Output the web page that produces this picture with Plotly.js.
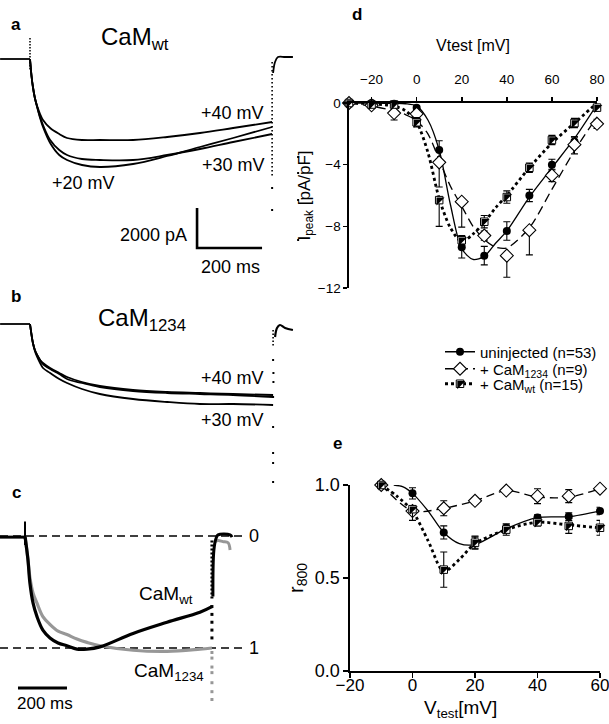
<!DOCTYPE html>
<html><head><meta charset="utf-8">
<script src="https://cdn.plot.ly/plotly-3.0.1.min.js"></script>
<style>html,body{margin:0;padding:0;background:#fff}#chart{width:609px;height:724px}</style>
</head><body><div id="chart"></div>
<script>
// ===== Panel a : CaMwt currents (time ms, current pA) =====
const aBaseT = [-92, 0];
const aBaseI = [0, 0];
const aPulseT = [0, 5, 9, 15, 22, 31, 40, 62, 90, 114, 160, 215, 317, 422, 523, 625, 745];
const aI40 = [0, -900, -1400, -1950, -2350, -2750, -3050, -3450, -3750, -3950, -4050, -4050, -4050, -3900, -3700, -3450, -3150];
const aI30 = [0, -900, -1400, -1950, -2400, -2900, -3300, -4050, -4550, -4800, -5000, -5050, -5050, -4800, -4500, -4150, -3750];
const aI20 = [0, -900, -1400, -1950, -2400, -2950, -3400, -4200, -4800, -5050, -5300, -5400, -5250, -4850, -4400, -3950, -3400];
const aSpikeT = [0, 0];
const aSpikeI = [1050, -550];
const aTailLineT = [745, 745];
const aTailLineI = [-150, -5900];
const aTailDotT = [745, 745, 825, 825, 825, 825];
const aTailDotI = [-6450, -7550, -4900, -5700, -7050, -9050];
const aPostT = [748, 754, 763, 785, 809];
const aPostI = [-700, -150, 100, 100, 100];

// ===== Panel b : CaM1234 currents =====
const bBaseT = [-92, 0];
const bBaseI = [0, 0];
const bPulseT = [0, 3, 9, 15, 22, 31, 40, 62, 90, 114, 160, 215, 317, 422, 523, 625, 748];
const bI40 = [0, -350, -950, -1300, -1550, -1800, -1950, -2200, -2450, -2650, -2900, -3100, -3300, -3400, -3450, -3500, -3550];
const bI20 = [0, -350, -950, -1300, -1550, -1800, -2000, -2250, -2500, -2750, -2950, -3150, -3350, -3450, -3500, -3550, -3650];
const bI30 = [0, -350, -950, -1350, -1650, -1950, -2200, -2450, -2750, -2950, -3250, -3500, -3750, -3900, -4000, -4000, -4050];
const bTailLineT = [748, 748];
const bTailLineI = [-300, -1150];
const bTailDotT = [748, 749, 749, 748, 748, 748, 748, 748];
const bTailDotI = [-1800, -2450, -2900, -3650, -5150, -6450, -6950, -7900];
const bPostT = [754, 760, 769, 785, 809];
const bPostI = [-650, -200, -50, -200, -300];

// ===== Panel c : normalised currents (time ms, fraction of peak) =====
const cBaseT = [-102, 0];
const cBaseN = [0.01, 0.01];
const cSpikeT = [0, 0];
const cSpikeN = [-0.13, 0.08];
const cT = [0, 12, 20, 33, 49, 73, 102, 135, 171, 212, 253, 306, 441, 580, 714, 763];
const cWt = [0, 0.21, 0.42, 0.60, 0.72, 0.84, 0.91, 0.955, 0.98, 1.01, 1.01, 0.99, 0.87, 0.77, 0.68, 0.63];
const c1234 = [0, 0.21, 0.37, 0.51, 0.60, 0.72, 0.79, 0.85, 0.88, 0.92, 0.95, 0.98, 1.02, 1.03, 1.01, 1.0];
const cWtTailLineT = [763, 763];
const cWtTailLineN = [0.04, 0.57];
const cWtTailDotT = [763, 763, 763, 763, 763];
const cWtTailDotN = [0.63, 0.70, 0.77, 0.84, 0.91];
const cWtPostT = [767, 771, 780, 788, 837, 845];
const cWtPostN = [0.54, 0.125, 0.02, -0.01, -0.01, 0.01];
const c1234TailDotT = [763, 763, 763, 763, 763, 763, 763];
const c1234TailDotN = [1.04, 1.09, 1.17, 1.22, 1.31, 1.39, 1.46];
const c1234PostT = [776, 788, 808, 829, 837];
const c1234PostN = [0.05, 0.04, 0.05, 0.06, 0.125];

// ===== Panel d : I-V relation =====
const vD = [-30, -20, -10, 0, 10, 20, 30, 40, 50, 60, 70, 80];
const ipUninj = [0, 0, -0.05, -0.3, -3.05, -9.35, -9.9, -8.3, -6.0, -4.0, -2.5, -0.3];
const ipUninjErrP = [0, 0, 0.1, 0.1, 0.6, 0.6, 0.6, 0.6, 0.4, 0.35, 0.3, 0.2];
const ipUninjErrM = [0, 0, 0.1, 0.1, 0.6, 0.7, 0.6, 0.6, 0.4, 0.35, 0.3, 0.2];
const ip1234 = [0, -0.15, -0.65, -0.7, -3.85, -6.4, -8.6, -9.9, -8.25, -4.7, -2.7, -1.35];
const ip1234ErrP = [0, 0, 0, 0, 0, 0, 0.3, 0, 0, 0.4, 0.5, 0.3];
const ip1234ErrM = [0, 0, 0.45, 0.3, 1.6, 1.65, 0.3, 1.4, 1.6, 0.4, 0.6, 0.3];
const ipWt = [0, -0.1, -0.1, -1.25, -6.3, -8.9, -7.7, -6.1, -4.2, -2.4, -1.3, -0.3];
const ipWtErrP = [0, 0, 0, 0.3, 0, 0.3, 0.4, 0.4, 0.3, 0.3, 0.3, 0.2];
const ipWtErrM = [0, 0, 0, 0.3, 1.7, 0.3, 0.4, 0.4, 0.3, 0.3, 0.3, 0.2];
const fitV = [-30, -20, -10, -5, 0, 5, 10, 15, 20, 25, 30, 35, 40, 50, 60, 70, 80];
const fitUninj = [0, 0, -0.02, -0.05, -0.2, -1.1, -3.05, -6.6, -9.45, -10.15, -9.95, -9.1, -8.3, -6.1, -4.2, -2.3, -0.1];
const fit1234 = [0, -0.2, -0.5, -0.75, -1.15, -2.0, -3.7, -5.4, -6.7, -8.0, -8.85, -9.35, -9.4, -8.1, -5.6, -3.1, -0.9];
const fitWt = [0, -0.05, -0.2, -0.5, -1.25, -3.2, -6.2, -8.1, -9.0, -8.5, -7.75, -6.8, -6.0, -4.2, -2.6, -1.3, 0];

// ===== Panel e : r800 =====
const vE = [-10, 0, 10, 20, 30, 40, 50, 60];
const rUninj = [1.0, 0.955, 0.745, 0.69, 0.77, 0.825, 0.83, 0.86];
const rUninjErr = [0, 0.03, 0.035, 0.035, 0.02, 0.015, 0.02, 0.02];
const r1234 = [1.0, 0.86, 0.875, 0.915, 0.97, 0.94, 0.94, 0.98];
const r1234Err = [0, 0, 0.04, 0.015, 0.01, 0.04, 0.035, 0.01];
const rWt = [1.0, 0.87, 0.545, 0.69, 0.76, 0.80, 0.78, 0.77];
const rWtErrP = [0, 0, 0.095, 0.03, 0.03, 0.02, 0.04, 0.04];
const rWtErrM = [0, 0.06, 0.095, 0.03, 0.03, 0.02, 0.04, 0.04];
const lineUninjV = [-6, -3, 0, 5, 10, 15, 20, 25, 30, 40, 50, 60];
const lineUninjR = [1.0, 0.99, 0.955, 0.86, 0.745, 0.685, 0.68, 0.72, 0.765, 0.825, 0.83, 0.86];
const line1234V = [-10, 0, 10, 20, 30, 40, 50, 60];
const line1234R = [1.0, 0.86, 0.875, 0.915, 0.97, 0.935, 0.935, 0.98];
const lineWtV = [-10, -5, 0, 5, 10, 15, 20, 30, 40, 50, 60];
const lineWtR = [1.0, 0.94, 0.86, 0.7, 0.535, 0.6, 0.685, 0.76, 0.80, 0.785, 0.77];

// ===== labels =====
const legendNames = ['uninjected (n=53)', '+ CaM<sub>1234</sub> (n=9)', '+ CaM<sub>wt</sub> (n=15)'];

const FONT = 'Arial, "Liberation Sans", sans-serif';
const BLK = '#000';
const GREY = '#979797';
const W = 609, H = 724;
const PX = p => p / W, PY = p => 1 - p / H;

function ln(x, y, xa, ya, opt) {
  return Object.assign({x, y, xaxis: xa, yaxis: ya, type: 'scatter', mode: 'lines', showlegend: false,
    hoverinfo: 'skip', cliponaxis: false, line: {color: BLK, width: 1.8}}, opt || {});
}
function dots(x, y, xa, ya, col, size) {
  return {x, y, xaxis: xa, yaxis: ya, type: 'scatter', mode: 'markers', showlegend: false, hoverinfo: 'skip',
    cliponaxis: false, marker: {color: col, size: size, symbol: 'square', line: {width: 0}}};
}
function eb(p, m, w) {
  return {type: 'data', symmetric: false, array: p, arrayminus: m, color: BLK, thickness: 1.1, width: w || 3.5, visible: true};
}
const spl = (w, col) => ({color: col || BLK, width: w, shape: 'spline', smoothing: 1});

const traces = [];
// panel a
traces.push(ln(aBaseT, aBaseI, 'x', 'y'));
[aI40, aI30, aI20].forEach(arr => traces.push(ln(aPulseT, arr, 'x', 'y', {line: spl(1.8)})));
traces.push(ln(aSpikeT, aSpikeI, 'x', 'y', {line: {color: BLK, width: 1.5, dash: '1.5px,1.5px'}}));
traces.push(ln(aTailLineT, aTailLineI, 'x', 'y', {line: {color: BLK, width: 1.6, dash: '1.5px,2.5px'}}));
traces.push(dots(aTailDotT, aTailDotI, 'x', 'y', BLK, 2));
traces.push(ln(aPostT, aPostI, 'x', 'y', {line: spl(1.8)}));
// panel b
traces.push(ln(bBaseT, bBaseI, 'x2', 'y2'));
[bI40, bI20, bI30].forEach(arr => traces.push(ln(bPulseT, arr, 'x2', 'y2', {line: spl(1.8)})));
traces.push(ln(bTailLineT, bTailLineI, 'x2', 'y2', {line: {color: BLK, width: 1.6, dash: '1.5px,2px'}}));
traces.push(dots(bTailDotT, bTailDotI, 'x2', 'y2', BLK, 2));
traces.push(ln(bPostT, bPostI, 'x2', 'y2', {line: spl(2.2)}));
// panel c
traces.push(dots(c1234TailDotT, c1234TailDotN, 'x3', 'y3', GREY, 3));
traces.push(ln(c1234PostT, c1234PostN, 'x3', 'y3', {line: spl(3, GREY)}));
traces.push(ln(cT, c1234, 'x3', 'y3', {line: spl(3.2, GREY)}));
traces.push(ln(cBaseT, cBaseN, 'x3', 'y3', {line: {color: BLK, width: 3}}));
traces.push(ln(cSpikeT, cSpikeN, 'x3', 'y3', {line: {color: BLK, width: 2}}));
traces.push(ln(cT, cWt, 'x3', 'y3', {line: spl(3.2)}));
traces.push(ln(cWtTailLineT, cWtTailLineN, 'x3', 'y3', {line: {color: BLK, width: 3, dash: '2px,2px'}}));
traces.push(dots(cWtTailDotT, cWtTailDotN, 'x3', 'y3', BLK, 3));
traces.push(ln(cWtPostT, cWtPostN, 'x3', 'y3', {line: spl(3)}));

// panel d fit lines (legend entries carry the line style)
traces.push(ln(fitV, fitUninj, 'x4', 'y4', {name: legendNames[0], showlegend: true, legend: 'legend',
  line: {color: BLK, width: 1.3, shape: 'spline', smoothing: 0.8}}));
traces.push(ln(fitV, fit1234, 'x4', 'y4', {name: legendNames[1], showlegend: true, legend: 'legend2',
  line: {color: BLK, width: 1.3, dash: '9px,5px', shape: 'spline', smoothing: 0.8}}));
traces.push(ln(fitV, fitWt, 'x4', 'y4', {name: legendNames[2], showlegend: true, legend: 'legend3',
  line: {color: BLK, width: 2.8, dash: 'dot', shape: 'spline', smoothing: 0.8}}));
// panel d markers
const mk = (x, y, xa, ya, marker, err, lg) => ({x, y, xaxis: xa, yaxis: ya, type: 'scatter', mode: 'markers',
  hoverinfo: 'skip', cliponaxis: false, marker, error_y: err, name: '\u00a0', showlegend: !!lg, legend: lg || 'legend'});
const mCircle = {symbol: 'circle', size: 8, color: BLK, line: {width: 0}};
const mDiamond = {symbol: 'diamond', size: 10, color: '#fff', line: {color: BLK, width: 1.1}};
const mSquare = {symbol: 'square', size: 7.5, color: '#fff', line: {color: BLK, width: 1}};
const mTri = {symbol: 'triangle-nw', size: 9, color: BLK, line: {width: 0}};
traces.push(mk(vD, ipUninj, 'x4', 'y4', mCircle, eb(ipUninjErrP, ipUninjErrM), 'legend4'));
traces.push(mk(vD, ip1234, 'x4', 'y4', mDiamond, eb(ip1234ErrP, ip1234ErrM), 'legend5'));
traces.push(mk(vD, ipWt, 'x4', 'y4', mSquare, eb(ipWtErrP, ipWtErrM), 'legend6'));
traces.push(mk(vD, ipWt, 'x4', 'y4', mTri, null, 'legend7'));

// panel e
traces.push(ln(lineUninjV, lineUninjR, 'x5', 'y5', {line: {color: BLK, width: 1.3, shape: 'spline', smoothing: 0.8}}));
traces.push(ln(line1234V, line1234R, 'x5', 'y5', {line: {color: BLK, width: 1.3, dash: '8px,5px', shape: 'spline', smoothing: 0.8}}));
traces.push(ln(lineWtV, lineWtR, 'x5', 'y5', {line: {color: BLK, width: 2.8, dash: 'dot', shape: 'spline', smoothing: 0.8}}));
traces.push(mk(vE, rUninj, 'x5', 'y5', mCircle, eb(rUninjErr, rUninjErr)));
traces.push(mk(vE, r1234, 'x5', 'y5', mDiamond, eb(r1234Err, r1234Err)));
traces.push(mk(vE, rWt, 'x5', 'y5', mSquare, eb(rWtErrP, rWtErrM)));
traces.push(mk(vE, rWt, 'x5', 'y5', mTri, null));

const hidden = {visible: false, showgrid: false, zeroline: false, fixedrange: true, autorange: false};
const axStyle = {showgrid: false, zeroline: false, showline: true, linecolor: BLK, linewidth: 1.6,
  ticks: 'outside', tickcolor: BLK, tickwidth: 1.6, fixedrange: true, autorange: false, ticklabeloverflow: 'allow'};

const legBase = {bgcolor: 'rgba(0,0,0,0)', borderwidth: 0, font: {family: FONT, size: 15, color: BLK},
  xanchor: 'left', yanchor: 'middle', itemclick: false, itemdoubleclick: false};
const legX = PX(440);
const legY = [PY(352), PY(369), PY(384)];

function ann(text, x, y, size, opt) {
  return Object.assign({text, x: PX(x), y: PY(y), xref: 'paper', yref: 'paper', showarrow: false,
    font: {family: FONT, size, color: BLK}, xanchor: 'center', yanchor: 'middle'}, opt || {});
}

const layout = {
  width: W, height: H, margin: {l: 0, r: 0, t: 0, b: 0},
  paper_bgcolor: '#fff', plot_bgcolor: 'rgba(0,0,0,0)',
  font: {family: FONT, color: BLK},
  xaxis: Object.assign({}, hidden, {domain: [0, PX(300)], range: [-92.31, 830.77], anchor: 'y'}),
  yaxis: Object.assign({}, hidden, {domain: [PY(280), PY(20)], range: [-11050, 1950], anchor: 'x'}),
  xaxis2: Object.assign({}, hidden, {domain: [0, PX(300)], range: [-92.31, 830.77], anchor: 'y2'}),
  yaxis2: Object.assign({}, hidden, {domain: [PY(490), PY(300)], range: [-8300, 1200], anchor: 'x2'}),
  xaxis3: Object.assign({}, hidden, {domain: [0, PX(300)], range: [-102.04, 1122.45], anchor: 'y3'}),
  yaxis3: Object.assign({}, hidden, {domain: [PY(715), PY(505)], range: [1.5982, -0.2768], anchor: 'x3'}),
  xaxis4: Object.assign({}, axStyle, {domain: [PX(349), PX(597)], range: [-30, 80], side: 'top', anchor: 'y4',
    tickvals: [-20, 0, 20, 40, 60, 80], ticklen: 4, tickfont: {size: 13.5}, ticklabelstandoff: 8,
    title: {text: 'Vtest [mV]', font: {size: 16}, standoff: 16}}),
  yaxis4: Object.assign({}, axStyle, {domain: [PY(288), PY(103)], range: [-12, 0], anchor: 'x4',
    tickvals: [0, -4, -8, -12], ticklen: 4, tickfont: {size: 13.5},
    title: {text: 'I<sub>peak</sub> [pA/pF]', font: {size: 17}, standoff: 3}}),
  xaxis5: Object.assign({}, axStyle, {domain: [PX(350), PX(600)], range: [-20, 60], anchor: 'y5',
    tickvals: [-20, 0, 20, 40, 60], ticklen: 5, tickfont: {size: 17}, ticklabelstandoff: -7}),
  yaxis5: Object.assign({}, axStyle, {domain: [PY(671), PY(485)], range: [0, 1], anchor: 'x5',
    tickvals: [0, 0.5, 1], tickformat: '.1f', ticklen: 5, tickfont: {size: 18},
    title: {text: 'r<sub>800</sub>', font: {size: 20}, standoff: 6}}),
  legend: Object.assign({}, legBase, {x: legX, y: legY[0]}),
  legend2: Object.assign({}, legBase, {x: legX, y: legY[1]}),
  legend3: Object.assign({}, legBase, {x: legX, y: legY[2]}),
  legend4: Object.assign({}, legBase, {x: legX, y: legY[0]}),
  legend5: Object.assign({}, legBase, {x: legX, y: legY[1]}),
  legend6: Object.assign({}, legBase, {x: legX, y: legY[2]}),
  legend7: Object.assign({}, legBase, {x: legX, y: legY[2]}),
  shapes: [
    // panel a scale bar (200 ms, 2000 pA)
    {type: 'path', xref: 'x', yref: 'y', path: 'M 514,-7450 L 514,-9450 L 714,-9450', line: {color: BLK, width: 2.6}},
    // panel c reference levels and scale bar
    {type: 'line', xref: 'x3', yref: 'y3', x0: -102, x1: 890, y0: 0, y1: 0, line: {color: BLK, width: 1.5, dash: '8px,5px'}, layer: 'below'},
    {type: 'line', xref: 'x3', yref: 'y3', x0: -102, x1: 890, y0: 1, y1: 1, line: {color: BLK, width: 1.5, dash: '8px,5px'}, layer: 'below'},
    {type: 'line', xref: 'x3', yref: 'y3', x0: -28.6, x1: 171.4, y0: 1.357, y1: 1.357, line: {color: BLK, width: 3}}
  ],
  annotations: [
    ann('<b>a</b>', 16, 25, 17),
    ann('CaM<sub>wt</sub>', 99, 38, 24, {xanchor: 'left'}),
    ann('+40 mV', 232, 113, 18),
    ann('+30 mV', 233, 165, 18),
    ann('+20 mV', 83, 183, 18),
    ann('2000 pA', 189, 235, 18, {xanchor: 'right'}),
    ann('200 ms', 230, 267, 18),
    ann('<b>b</b>', 16, 296, 17),
    ann('CaM<sub>1234</sub>', 96, 319, 24, {xanchor: 'left'}),
    ann('+40 mV', 232, 378, 18),
    ann('+30 mV', 232, 420, 18),
    ann('<b>c</b>', 16, 492, 17),
    ann('CaM<sub>wt</sub>', 137, 595, 19, {xanchor: 'left'}),
    ann('CaM<sub>1234</sub>', 132, 672, 19, {xanchor: 'left'}),
    ann('0', 254, 536, 18),
    ann('1', 254, 648, 18),
    ann('200 ms', 45, 703, 17),
    ann('<b>d</b>', 357, 15, 17),
    ann('<b>e</b>', 337, 443, 17),
    ann('V<sub>test</sub>[mV]', 460, 709, 19)
  ]
};

Plotly.newPlot('chart', traces, layout, {staticPlot: true, displayModeBar: false});
</script>
</body></html>
